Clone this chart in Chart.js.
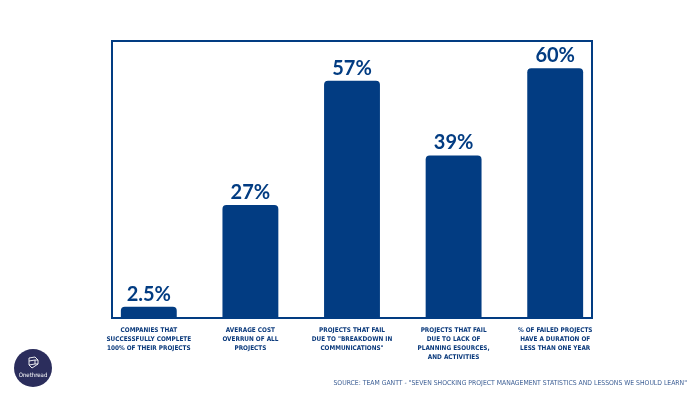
<!DOCTYPE html>
<html>
<head>
<meta charset="utf-8">
<script src="https://cdn.jsdelivr.net/npm/chart.js@4"></script>
<style>
    html, body { margin: 0; padding: 0; background: #fff; }
    #wrap { position: relative; width: 700px; height: 400px; }
    #logo {
        position: absolute; left: 14px; top: 349px; width: 38px; height: 38px;
        border-radius: 50%; background: #2b2d5c; color: #fff;
        font-family: 'Liberation Sans Narrow', 'DejaVu Sans Condensed', sans-serif;
        font-size: 6px; text-align: center;
    }
    #logo svg { display: block; margin: 7px auto 1px auto; }
    #source {
        position: absolute; right: 13px; top: 379px;
        font-family: 'Liberation Sans Narrow', 'DejaVu Sans Condensed', sans-serif;
        font-size: 6.8px; color: #3d5f95; white-space: nowrap;
    }
</style>
</head>
<body>
<div id="wrap">
    <canvas id="statsChart" width="700" height="400"></canvas>
    <div id="logo">
        <svg width="14" height="14" viewBox="0 0 14 14">
            <path d="M3 2 L9 1 L12 4 L12 8 L6 12 L3 9 Z M3 5 L9 4 L12 4 M9 4 L9 8 L12 8 M3 9 L9 8" fill="none" stroke="#fff" stroke-width="0.9"/>
        </svg>
        Onethread
    </div>
    <div id="source">SOURCE: TEAM GANTT - "SEVEN SHOCKING PROJECT MANAGEMENT STATISTICS AND LESSONS WE SHOULD LEARN"</div>
</div>
<script>
var categories = [
    ['COMPANIES THAT', 'SUCCESSFULLY COMPLETE', '100% OF THEIR PROJECTS'],
    ['AVERAGE COST', 'OVERRUN OF ALL', 'PROJECTS'],
    ['PROJECTS THAT FAIL', 'DUE TO "BREAKDOWN IN', 'COMMUNICATIONS"'],
    ['PROJECTS THAT FAIL', 'DUE TO LACK OF', 'PLANNING ESOURCES,', 'AND ACTIVITIES'],
    ['% OF FAILED PROJECTS', 'HAVE A DURATION OF', 'LESS THAN ONE YEAR']
];
var percentages = [2.5, 27, 57, 39, 60];
var valueLabels = ['2.5%', '27%', '57%', '39%', '60%'];

var blue = '#023c82';

// frame around the bars plus value labels on top
var decorations = {
    id: 'decorations',
    beforeDatasetsDraw: function (chart) {
        var a = chart.chartArea;
        var c = chart.ctx;
        c.save();
        c.strokeStyle = blue;
        c.lineWidth = 2;
        c.strokeRect(a.left + 14, a.top, a.right - a.left - 28, a.bottom - a.top + 1);
        c.restore();
    },
    afterDatasetsDraw: function (chart) {
        var c = chart.ctx;
        var meta = chart.getDatasetMeta(0);
        c.save();
        c.fillStyle = blue;
        c.font = 'bold 20px Lato, sans-serif';
        c.textAlign = 'center';
        c.textBaseline = 'alphabetic';
        meta.data.forEach(function (bar, i) {
            c.fillText(valueLabels[i], bar.x, bar.y - 6);
        });
        c.restore();
    }
};

var ctx = document.getElementById('statsChart').getContext('2d');

new Chart(ctx, {
    type: 'bar',
    data: {
        labels: categories,
        datasets: [{
            data: percentages,
            backgroundColor: blue,
            borderRadius: { topLeft: 4, topRight: 4 },
            borderSkipped: 'start',
            barPercentage: 0.55,
            categoryPercentage: 1
        }]
    },
    options: {
        responsive: false,
        animation: false,
        layout: {
            padding: { top: 41, left: 98, right: 94, bottom: 0 }
        },
        scales: {
            x: {
                grid: { display: false },
                border: { display: false },
                ticks: {
                    color: '#0b3a7c',
                    padding: 1,
                    maxRotation: 0,
                    autoSkip: false,
                    font: { family: "'Liberation Sans Narrow', 'DejaVu Sans Condensed', sans-serif", size: 6.4, weight: 'bold', lineHeight: 1.4 }
                },
                afterFit: function (scale) {
                    scale.height = 83;
                }
            },
            y: {
                display: false,
                min: 0,
                max: 66.6
            }
        },
        plugins: {
            legend: { display: false },
            tooltip: { enabled: false }
        }
    },
    plugins: [decorations]
});
</script>
</body>
</html>
